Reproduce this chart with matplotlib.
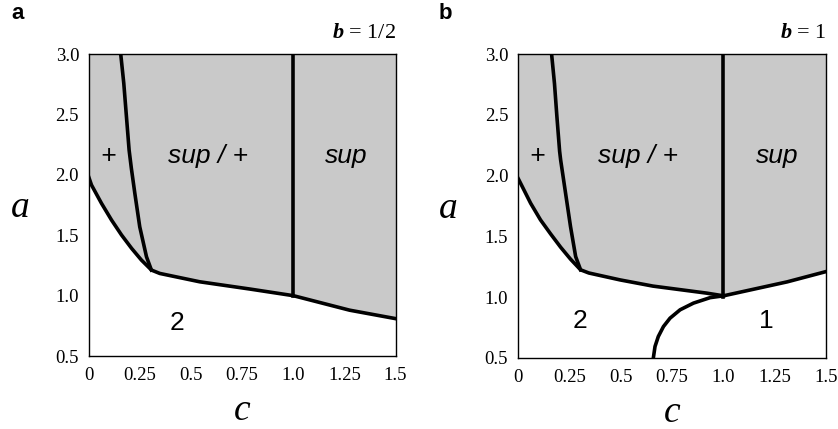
import matplotlib.pyplot as plt

plt.rcParams['font.family'] = ['Liberation Serif', 'DejaVu Serif']
plt.rcParams['mathtext.fontset'] = 'custom'
plt.rcParams['mathtext.bf'] = 'Liberation Serif:italic:bold'

# panel a (b = 1/2): lower boundary of shaded region (left curve + bottom line)
a_low_c = [0.0, 0.013, 0.062, 0.111, 0.160, 0.209, 0.257, 0.298, 0.306,
           0.347, 0.542, 0.787, 1.0, 1.275, 1.5]
a_low_a = [1.98, 1.916, 1.764, 1.626, 1.502, 1.392, 1.295, 1.226, 1.212,
           1.184, 1.115, 1.055, 1.0, 0.88, 0.81]
# "+" / "sup/+" boundary
a_plus_c = [0.156, 0.171, 0.184, 0.197, 0.208, 0.225, 0.249, 0.282, 0.306]
a_plus_a = [3.0, 2.757, 2.481, 2.205, 2.054, 1.847, 1.57, 1.322, 1.212]

# panel b (b = 1)
b_low_c = [0.0, 0.005, 0.062, 0.110, 0.159, 0.208, 0.256, 0.305,
           0.345, 0.497, 0.657, 0.919, 1.0, 1.31, 1.5]
b_low_a = [1.98, 1.964, 1.772, 1.635, 1.520, 1.410, 1.312, 1.224,
           1.198, 1.141, 1.09, 1.032, 1.01, 1.125, 1.21]
b_plus_c = [0.164, 0.178, 0.190, 0.203, 0.208, 0.232, 0.256, 0.281, 0.305]
b_plus_a = [3.0, 2.757, 2.48, 2.2, 2.128, 1.854, 1.58, 1.333, 1.224]
# boundary between regions 2 and 1
b_split_c = [0.659, 0.667, 0.683, 0.708, 0.740, 0.789, 0.854, 0.935, 1.0]
b_split_a = [0.5, 0.593, 0.675, 0.757, 0.826, 0.895, 0.950, 0.995, 1.01]

sup_c = 1.0
xticks = [0, 0.25, 0.5, 0.75, 1.0, 1.25, 1.5]
xticklabels = ['0', '0.25', '0.5', '0.75', '1.0', '1.25', '1.5']
yticks = [0.5, 1.0, 1.5, 2.0, 2.5, 3.0]
yticklabels = ['0.5', '1.0', '1.5', '2.0', '2.5', '3.0']

gray = '#c9c9c9'
lw = 2.6
sans = ['Liberation Sans', 'DejaVu Sans']

fig = plt.figure(figsize=(8.38, 4.29), dpi=100)
ax1 = fig.add_axes([0.106, 0.170, 0.366, 0.704])
ax2 = fig.add_axes([0.618, 0.166, 0.368, 0.708])


def setup(ax, title):
    ax.set_xlim(0, 1.5)
    ax.set_ylim(0.5, 3.0)
    ax.set_xticks(xticks)
    ax.set_xticklabels(xticklabels)
    ax.set_yticks(yticks)
    ax.set_yticklabels(yticklabels)
    ax.tick_params(length=0, labelsize=13.5)
    ax.tick_params(axis='y', pad=7)
    ax.tick_params(axis='x', pad=8)
    for s in ax.spines.values():
        s.set_linewidth(1.0)
        s.set_zorder(5)
    ax.set_xlabel('c', fontsize=27, style='italic', va='center')
    ax.xaxis.set_label_coords(0.5, -0.18)
    ax.set_ylabel('a', fontsize=27, style='italic', rotation=0, va='center', ha='center')
    ax.yaxis.set_label_coords(-0.225, 0.49)
    ax.text(1.0, 1.053, r'$\mathbf{b}$ = ' + title, transform=ax.transAxes,
            ha='right', va='baseline', fontsize=16)


def draw(ax, low_c, low_a, plus_c, plus_a):
    ax.fill_between(low_c, low_a, 3.0, color=gray, lw=0)
    ax.plot(low_c, low_a, color='black', lw=lw, solid_joinstyle='round')
    ax.plot(plus_c, plus_a, color='black', lw=lw)
    ax.plot([sup_c, sup_c], [1.0, 3.0], color='black', lw=lw)
    ax.text(0.093, 2.16, '+', fontsize=19, style='italic', family=sans, ha='center', va='center')
    ax.text(0.585, 2.16, 'sup / +', fontsize=19, style='italic', family=sans, ha='center', va='center')
    ax.text(1.26, 2.16, 'sup', fontsize=19, style='italic', family=sans, ha='center', va='center')


setup(ax1, '1/2')
draw(ax1, a_low_c, a_low_a, a_plus_c, a_plus_a)
ax1.text(0.43, 0.77, '2', fontsize=19, family=sans, ha='center', va='center')

setup(ax2, '1')
draw(ax2, b_low_c, b_low_a, b_plus_c, b_plus_a)
ax2.plot(b_split_c, b_split_a, color='black', lw=lw)
ax2.text(0.30, 0.80, '2', fontsize=19, family=sans, ha='center', va='center')
ax2.text(1.21, 0.80, '1', fontsize=19, family=sans, ha='center', va='center')

fig.text(0.014, 0.955, 'a', fontsize=16, weight='bold', family=sans, va='baseline')
fig.text(0.523, 0.955, 'b', fontsize=16, weight='bold', family=sans, va='baseline')

fig.savefig('out.png', dpi=100)
